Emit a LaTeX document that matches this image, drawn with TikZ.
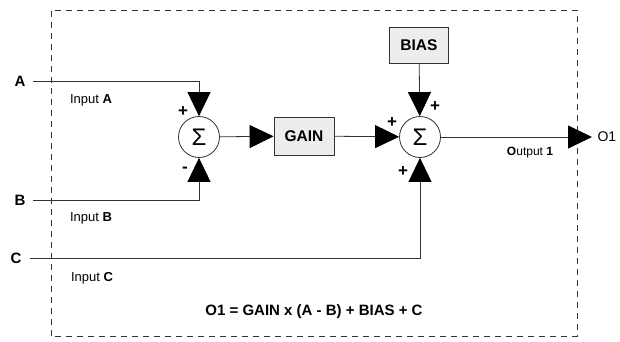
\documentclass[tikz,border=0pt]{standalone}
\usepackage{fontspec}
\setmainfont{Liberation Sans}
\usetikzlibrary{positioning, arrows.meta}

\begin{document}
\begin{tikzpicture}[
  x=1pt, y=1pt,
  wire/.style={draw=black!80, line width=0.8pt},
  flow/.style={wire, -{Triangle[length=24pt, width=23pt, black]}},
  sum/.style={circle, draw=black!80, line width=0.8pt, fill=white, minimum size=41pt, inner sep=0pt, font=\fontsize{24}{24}\selectfont},
  box/.style={draw=black!80, line width=0.8pt, fill=black!7, align=center, inner sep=0pt, font=\fontsize{15.5}{15.5}\selectfont\bfseries},
  port/.style={font=\fontsize{15}{15}\selectfont\bfseries},
  note/.style={font=\fontsize{13}{13}\selectfont},
  sign/.style={font=\fontsize{17}{17}\selectfont\bfseries, inner sep=0pt}
]
\useasboundingbox (0,0) rectangle (620,341);
\draw[black!80, line width=0.8pt, dash pattern=on 6pt off 5pt] (51,5) rectangle (577,331);

% blocks
\node[sum] (sumA) at (199,204) {Σ};
\node[sum] (sumB) at (420,204) {Σ};
\node[box, minimum width=60pt, minimum height=38pt] (gain) at (304,205) {GAIN};
\node[box, minimum width=59pt, minimum height=36pt] (bias) at (419,296) {BIAS};

% inputs and output
\coordinate (inA) at (33,260);
\coordinate (inB) at (33,141);
\coordinate (inC) at (30,83);
\coordinate (outO) at (592,204);
\node[port, left=4pt of inA] (lblA) {A};
\node[port, left=4pt of inB] (lblB) {B};
\node[port, left=5pt of inC] (lblC) {C};
\node[note] (noteA) at (91,241) {Input \textbf{A}};
\node[note] (noteB) at (91,123) {Input \textbf{B}};
\node[note] (noteC) at (92,63) {Input \textbf{C}};
\node[font=\fontsize{12}{12}\selectfont] (noteO) at (530,188) {\textbf{O}utput \textbf{1}};
\node[font=\fontsize{14}{14}\selectfont, right=2pt of outO] (lblO) {O1};

% connectors
\draw[flow] (inA) -| (sumA.north);
\draw[flow] (inB) -| (sumA.south);
\draw[flow] (sumA) -- (gain);
\draw[flow] (gain) -- (sumB);
\draw[flow] (bias) -- (sumB);
\draw[flow] (inC) -| (sumB.south);
\draw[flow] (sumB) -- (outO);

% signs
\node[sign] (sA1) at (183,229) {+};
\node[sign] (sA2) at (185,171) {-};
\node[sign] (sB1) at (392,218) {+};
\node[sign] (sB2) at (435,234) {+};
\node[sign] (sB3) at (403,169) {+};

\node[font=\fontsize{15}{15}\selectfont\bfseries] (formula) at (314,29) {O1 = GAIN x (A - B) + BIAS + C};
\end{tikzpicture}
\end{document}
